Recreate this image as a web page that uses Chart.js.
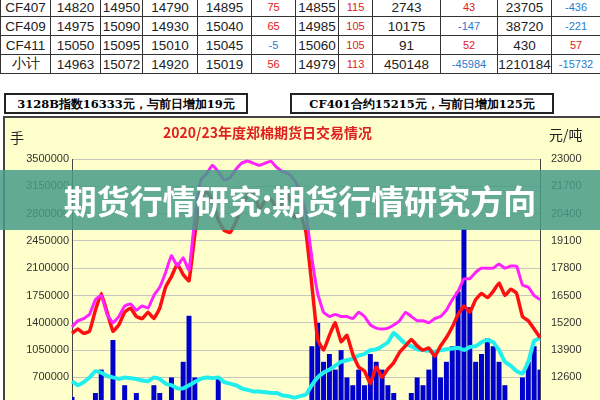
<!DOCTYPE html>
<html><head><meta charset="utf-8">
<script src="https://cdn.jsdelivr.net/npm/chart.js@4"></script>
<style>
body{margin:0;width:600px;height:400px;overflow:hidden;position:relative;background:#fff;font-family:"Liberation Sans",Arial,sans-serif}
table{position:absolute;left:0;top:-3px;border-collapse:collapse;table-layout:fixed;width:600px}
td{border:1.5px solid #333;height:18px;padding:0;text-align:center;font-size:13.5px;color:#222;white-space:nowrap;overflow:hidden}
.r{color:#e02020;font-size:11px}.b{color:#2a7ad0;font-size:11px}
.box{position:absolute;top:93px;height:17px;border:2px solid #222;font:bold 11.5px "DejaVu Serif",serif;text-align:center;line-height:19px;background:#fff}
#panel{position:absolute;left:3px;top:116px;width:595px;height:340px;background:#ffffcc;border-left:2px solid #444;border-top:2px solid #444}
.lbl{position:absolute;font:14px "Noto Sans CJK SC",sans-serif;color:#222}
#title{position:absolute;left:0;width:535px;text-align:center;top:122px;font:bold 14px "Noto Sans CJK SC",sans-serif;color:#e02020}
#banner{position:absolute;left:0;top:170px;width:600px;height:60px;background:rgba(70,155,135,0.85);color:#fff;font:bold 33px "Noto Sans CJK SC",sans-serif;text-align:center;line-height:60px}
</style></head><body>
<table>
<colgroup><col width="50"><col width="50"><col width="42"><col width="55"><col width="54"><col width="44"><col width="43"><col width="34"><col width="68"><col width="57"><col width="54"><col width="49"></colgroup>
<tr><td>CF407</td><td>14820</td><td>14950</td><td>14790</td><td>14895</td><td class="r">75</td><td>14855</td><td class="r">115</td><td>2743</td><td class="r">43</td><td>23705</td><td class="b">-436</td></tr>
<tr><td>CF409</td><td>14975</td><td>15090</td><td>14930</td><td>15040</td><td class="r">65</td><td>14985</td><td class="r">105</td><td>10175</td><td class="b">-147</td><td>38720</td><td class="b">-221</td></tr>
<tr><td>CF411</td><td>15050</td><td>15095</td><td>15010</td><td>15045</td><td class="b">-5</td><td>15060</td><td class="r">105</td><td>91</td><td class="r">52</td><td>430</td><td class="r">57</td></tr>
<tr><td>小计</td><td>14963</td><td>15072</td><td>14920</td><td>15019</td><td class="r">56</td><td>14979</td><td class="r">113</td><td>450148</td><td class="b">-45984</td><td>1210184</td><td class="b">-15732</td></tr>
</table>
<div class="box" style="left:4px;width:240px">3128B指数16333元，与前日增加19元</div>
<div class="box" style="left:290px;width:260px">CF401合约15215元，与前日增加125元</div>
<div id="panel"><canvas id="c" width="595" height="340"></canvas></div>
<div id="title">2020/23年度郑棉期货日交易情况</div>
<div class="lbl" style="left:10px;top:127px">手</div>
<div class="lbl" style="left:549px;top:124px">元/吨</div>
<div id="banner">期货行情研究:期货行情研究方向</div>
<script>
// 价格（元/吨，右轴）
const price3128 = [15000,15300,15400,15600,16300,16500,15600,15200,15500,16000,16100,15800,16000,15900,16500,16900,17600,18400,17900,18300,17700,20200,22000,22300,22700,22400,22000,22100,22500,22800,22900,22800,22700,22800,22900,22600,22400,22300,22000,21500,20400,18300,16600,15700,15500,15600,15500,15500,15400,15700,15500,15100,14950,14900,14950,15100,15300,15700,15500,15300,15300,15200,15400,15500,15800,16300,16700,17300,17300,17600,17800,17800,17800,18000,17800,17900,17900,17000,16900,16500,16300];
const priceCF = [14700,14900,14700,14800,15800,16600,15700,14800,15100,15700,15900,15500,15400,15700,15400,15900,16900,17400,18000,17500,17200,19400,21000,21500,21000,20100,19600,19500,20000,20700,21300,21500,20600,21000,21100,20600,20900,21300,20200,20400,19500,17000,14400,13900,14600,15200,14300,14600,13700,13100,12900,12300,13100,12600,13000,13300,13800,14100,14400,14100,13900,14000,13600,14100,14500,15000,15600,16000,15700,16300,16600,16400,16700,17100,16500,16800,16600,15500,15300,14900,14500];
// 持仓量与成交量（手，左轴）
const openInterest = [650000,600000,640000,700000,780000,760000,720000,700000,680000,700000,690000,680000,660000,650000,700000,680000,620000,600000,560000,560000,600000,640000,680000,700000,690000,700000,640000,620000,600000,560000,540000,520000,520000,510000,500000,500000,470000,460000,440000,460000,480000,600000,700000,760000,800000,850000,900000,920000,940000,980000,1000000,1050000,1060000,1100000,1150000,1270000,1200000,1130000,1100000,1060000,1050000,1040000,1030000,1050000,1060000,1070000,1080000,1050000,1090000,1100000,1150000,1180000,1150000,1050000,900000,850000,780000,750000,900000,1170000,1200000];
const volume = [450000,350000,250000,200000,500000,800000,300000,1180000,400000,600000,300000,500000,400000,200000,600000,500000,400000,700000,300000,900000,1490000,700000,400000,300000,200000,700000,350000,250000,150000,100000,200000,150000,100000,200000,120000,300000,100000,80000,150000,100000,200000,1100000,1400000,900000,1000000,800000,1050000,700000,600000,800000,600000,1000000,900000,800000,600000,500000,400000,300000,500000,700000,600000,800000,1000000,700000,900000,1100000,1800000,2600000,1600000,900000,1000000,1200000,1100000,900000,600000,400000,200000,700000,900000,1100000,800000];
const days = price3128.map((_, i) => i);

const line = (data, color, w, axis) => ({type:"line", data, borderColor:color, borderWidth:w, pointRadius:0, tension:0.1, yAxisID:axis, order:0});
new Chart(document.getElementById("c"), {
  data: {
    labels: days,
    datasets: [
      line(price3128, "#ff22ff", 3, "yR"),
      line(priceCF, "#ff1010", 3.5, "yR"),
      line(openInterest, "#22eeee", 4, "yL"),
      {type:"bar", data:volume, backgroundColor:"#0000cc", barPercentage:0.85, categoryPercentage:1, yAxisID:"yL", order:1}
    ]
  },
  options: {
    responsive:false, animation:false,
    layout:{padding:{top:41, bottom:26}},
    plugins:{legend:{display:false}, tooltip:{enabled:false}},
    scales:{
      x:{display:false, offset:false},
      yL:{position:"left", min:0, max:3500000, border:{color:"#444"},
        ticks:{stepSize:350000, color:"#333", font:{size:11}, callback:v => String(v)},
        grid:{color:"#c8c8c0", drawTicks:false},
        afterFit(s){s.width=67;}},
      yR:{position:"right", min:10000, max:23000, border:{color:"#444"},
        ticks:{stepSize:1300, color:"#333", font:{size:11}, callback:v => String(v)},
        grid:{display:false},
        afterFit(s){s.width=60;}}
    }
  }
});
</script>
</body></html>
